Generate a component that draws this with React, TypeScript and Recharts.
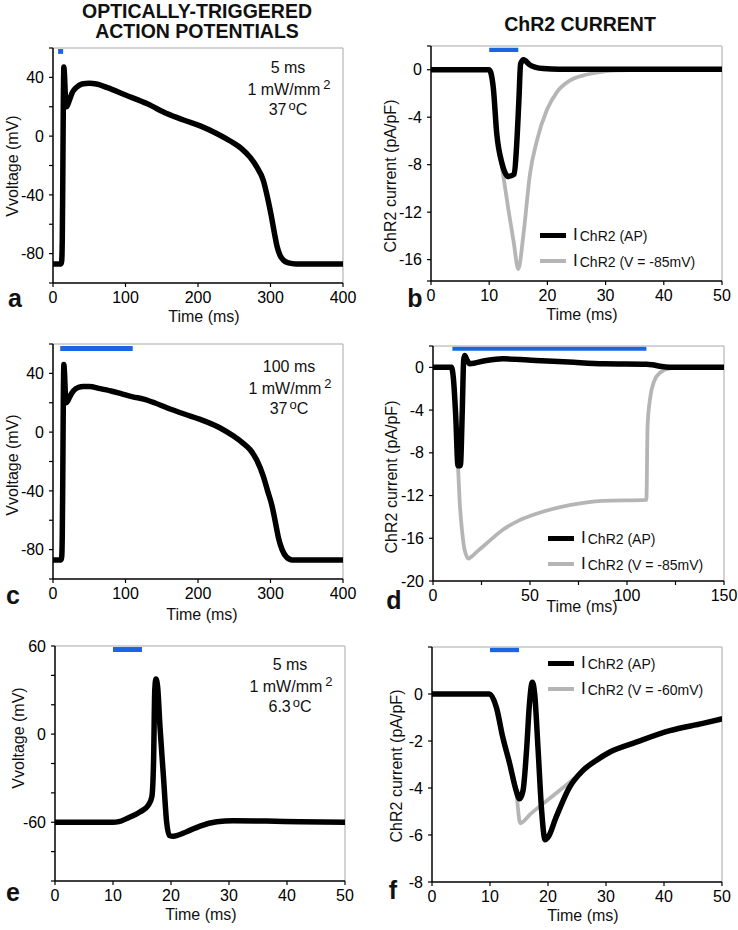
import React from 'react';
import { LineChart, Line, XAxis, YAxis, ReferenceLine, ReferenceArea, Legend } from 'recharts';

const FONT = '"Liberation Sans", Arial, Helvetica, sans-serif';
const BLUE = '#1a66e0';
const GRAY = '#b5b5b5';
const FRAME = '#c4c4c4';

// ---------- Panel a: AP, 5 ms, 1 mW/mm2, 37 C ----------
const apA_t = [0, 11, 12, 12.8, 13.5, 14.2, 15, 15.8, 17, 18.5, 20, 23, 27, 32, 40, 50, 60, 75, 100, 130, 157, 180, 203, 225, 245, 260, 272, 281, 290, 296, 301, 305, 309, 313, 318, 325, 335, 400];
const apA_v = [-87, -87, -85, -70, -30, 20, 47, 42, 28, 20, 21, 25, 30, 33, 35.5, 36, 35.5, 33, 28, 22, 15.4, 11, 7, 2, -3.5, -8.5, -14.5, -21, -30, -42, -54, -65, -75, -81, -84.5, -86.3, -87, -87];

// ---------- Panel b: ChR2 current, 5 ms ----------
const ibAP_t = [0, 10, 10.7, 11.3, 12.2, 13.3, 14.3, 14.7, 15.1, 15.4, 15.9, 17, 18, 19.3, 22, 50];
const ibAP_v = [0, 0, -1.5, -5.4, -7.9, -9.0, -8.8, -6.5, -2.6, 0.5, 0.84, 0.4, 0.2, 0.1, 0.05, 0.05];
const ibV_t = [0, 10, 10.7, 11.3, 12.2, 13.3, 14.2, 15, 15.9, 17, 18.2, 19.9, 21.6, 23.9, 26.8, 29.6, 32.5, 36, 50];
const ibV_v = [0, 0, -1.5, -5.2, -8.2, -11.8, -14.5, -16.8, -13.8, -8.8, -5.96, -3.4, -1.9, -0.9, -0.4, -0.15, -0.05, 0, 0];

// ---------- Panel c: AP, 100 ms ----------
const apC_t = [0, 11, 12, 12.8, 13.5, 14.2, 15, 15.8, 17, 18.5, 20, 23, 28, 35, 42, 50, 65, 80, 95, 110, 125, 140, 157, 180, 203, 230, 249, 262, 272, 281, 290, 296, 302, 307, 311, 316, 322, 330, 340, 400];
const apC_v = [-87, -87, -85, -70, -30, 20, 46, 41, 27, 20, 21, 24, 28, 30.5, 31, 31, 29.6, 28, 26, 24, 22.5, 20, 16.6, 12.5, 8.7, 3, -2.7, -7.5, -12, -19, -30, -40, -50, -62, -72, -80, -85, -87, -87, -87];

// ---------- Panel d: ChR2 current, 100 ms ----------
const idAP_t = [0, 9.5, 10.5, 11.7, 12.9, 14.1, 15.1, 15.8, 16.3, 17.5, 18.9, 27.5, 36, 53, 70, 88, 110, 113, 117, 122, 150];
const idAP_v = [0, 0, -1, -4.5, -9.2, -9.2, -4, 0.65, 1.1, 0.7, 0.34, 0.65, 0.8, 0.65, 0.5, 0.34, 0.3, 0.25, 0.1, 0, 0];
const idV_t = [0, 9.5, 10.5, 11.7, 12.9, 13.7, 15.1, 16.3, 18.4, 20, 23, 27.5, 36, 44.7, 53.3, 70.4, 87.6, 110, 110.6, 112, 114, 117, 122, 130, 150];
const idV_v = [0, 0, -1, -4.5, -9.2, -12.4, -15.5, -17.1, -17.9, -17.7, -17.2, -16.5, -15.2, -14.3, -13.7, -12.9, -12.5, -12.4, -5.5, -2.8, -1.3, -0.5, -0.1, 0, 0];

// ---------- Panel e: AP, 5 ms, 6.3 C ----------
const apE_t = [0, 10, 11, 12.4, 14.7, 16.1, 16.7, 17.0, 17.2, 17.4, 17.7, 18.1, 18.7, 19.25, 19.7, 20.4, 22.7, 25, 27.9, 30.7, 36.5, 42.2, 50];
const apE_v = [-60, -60, -59.6, -57.4, -52.9, -48.3, -42.6, -17.7, 30, 37.5, 32, 5, -29, -60, -69, -69.5, -66.5, -62.6, -59.7, -59, -59.2, -59.7, -60];

// ---------- Panel f: ChR2 current, 6.3 C ----------
const ifAP_t = [0, 9.9, 11.1, 12.2, 13.4, 14.5, 15.1, 15.7, 16.3, 16.8, 17.3, 17.7, 18.3, 18.9, 19.5, 20, 21.4, 23.7, 26, 28.3, 30.6, 35.2, 41, 46.7, 50];
const ifAP_v = [0, 0, -0.57, -1.84, -2.97, -4.1, -4.46, -4.1, -2.4, -0.42, 0.5, 0, -2.4, -4.96, -6.2, -6.1, -5.24, -3.97, -3.26, -2.83, -2.48, -2.05, -1.56, -1.25, -1.06];
const ifV_t = [0, 9.9, 11.1, 12.2, 13.4, 14.5, 15.2, 17, 20, 23, 26, 28.3, 30.6, 35.2, 41, 46.7, 50];
const ifV_v = [0, 0, -0.57, -1.84, -2.97, -4.1, -5.5, -5.1, -4.5, -3.9, -3.3, -2.83, -2.48, -2.05, -1.56, -1.25, -1.06];

// ---------- Axis ticks ----------
const apXTicks = [0, 100, 200, 300, 400];
const ms50Ticks = [0, 10, 20, 30, 40, 50];
const dXTicks = [0, 25, 50, 75, 100, 125, 150];
const dXLabels = [0, 50, 100, 150];
const apYTicks = [-100, -80, -60, -40, -20, 0, 20, 40, 60];
const apYLabels = [-80, -40, 0, 40];
const eYLabels = [-60, 0, 60];
const bYTicks = [-17.8, -16, -12, -8, -4, 0, 2];
const bYLabels = [-16, -12, -8, -4, 0];
const dYTicks = [-20, -16, -12, -8, -4, 0, 2];
const dYLabels = [-20, -16, -12, -8, -4, 0];
const fYTicks = [-8, -6, -4, -2, 0, 2];
const fYLabels = [-8, -6, -4, -2, 0];

const toPts = (t: number[], v: number[]) => t.map((x, i) => ({ t: x, v: v[i] }));

type Series = { key: string; t: number[]; v: number[]; color: string; width: number };
type LegendItem = { label: string; color: string; thick: number };

type PanelProps = {
  box: [number, number, number, number];
  xDomain: [number, number];
  xTicks: number[];
  xLabels?: number[];
  yDomain: [number, number];
  yTicks: number[];
  yLabels: number[];
  series: Series[];
  stim: [number, number, number, number];
  legend?: { items: LegendItem[]; x: number; y: number };
};

const LegendBox = ({ items }: { items: LegendItem[] }) => (
  <div style={{ fontFamily: FONT, color: '#111' }}>
    {items.map((it) => (
      <div key={it.label} style={{ display: 'flex', alignItems: 'center', height: 26, whiteSpace: 'nowrap' }}>
        <div style={{ width: 26, height: it.thick, background: it.color }} />
        <span style={{ fontSize: 17, marginLeft: 7, lineHeight: '18px' }}>I</span>
        <span style={{ fontSize: 14, marginLeft: 2, lineHeight: '18px', position: 'relative', top: 1 }}>{it.label}</span>
      </div>
    ))}
  </div>
);

function Panel({ box, xDomain, xTicks, xLabels, yDomain, yTicks, yLabels, series, stim, legend }: PanelProps) {
  const [L, T, R, B] = box;
  const padL = 60, padT = 10, padR = 15, padB = 50;
  const w = R - L + padL + padR;
  const h = B - T + padT + padB;
  const ox = L - padL, oy = T - padT;
  const tickStyle = { fill: '#000', fontSize: 16, fontFamily: FONT };
  return (
    <div style={{ position: 'absolute', left: ox, top: oy }}>
      <LineChart width={w} height={h} margin={{ top: padT, right: padR, bottom: 0, left: 0 }}>
        <XAxis
          type="number"
          dataKey="t"
          domain={xDomain}
          ticks={xTicks}
          interval={0}
          allowDataOverflow
          height={padB}
          tickSize={4}
          tickMargin={5}
          axisLine={{ stroke: '#000', strokeWidth: 1.5 }}
          tickLine={{ stroke: '#000', strokeWidth: 1.2 }}
          tick={tickStyle}
          tickFormatter={(v: number) => (!xLabels || xLabels.includes(v) ? String(v) : '')}
        />
        <YAxis
          type="number"
          domain={yDomain}
          ticks={yTicks}
          interval={0}
          allowDataOverflow
          width={padL}
          tickSize={4}
          tickMargin={5}
          axisLine={{ stroke: '#000', strokeWidth: 1.5 }}
          tickLine={{ stroke: '#000', strokeWidth: 1.2 }}
          tick={tickStyle}
          tickFormatter={(v: number) => (yLabels.includes(v) ? String(v) : '')}
        />
        <ReferenceLine y={yDomain[1]} stroke={FRAME} strokeWidth={1.5} />
        <ReferenceLine x={xDomain[1]} stroke={FRAME} strokeWidth={1.5} />
        <ReferenceArea x1={stim[0]} x2={stim[1]} y1={stim[2]} y2={stim[3]} fill={BLUE} fillOpacity={1} stroke="none" />
        {series.map((s) => (
          <Line
            key={s.key}
            data={toPts(s.t, s.v)}
            dataKey="v"
            type="monotone"
            stroke={s.color}
            strokeWidth={s.width}
            strokeLinecap="round"
            strokeLinejoin="round"
            dot={false}
            activeDot={false}
            isAnimationActive={false}
          />
        ))}
        {legend && (
          <Legend
            layout="horizontal"
            verticalAlign="middle"
            align="center"
            content={() => <LegendBox items={legend.items} />}
            wrapperStyle={{ position: 'absolute', left: legend.x - ox, top: legend.y - oy, width: 200, height: 52 }}
          />
        )}
      </LineChart>
    </div>
  );
}

const Txt = ({ x, y, size = 16, bold = false, rotate = false, children }: any) => (
  <div
    style={{
      position: 'absolute',
      left: x,
      top: y,
      transform: `translate(-50%, -50%)${rotate ? ' rotate(-90deg)' : ''}`,
      whiteSpace: 'nowrap',
      fontSize: size,
      fontWeight: bold ? 'bold' : 'normal',
      fontFamily: FONT,
      color: '#111',
      lineHeight: 1,
    }}
  >
    {children}
  </div>
);

const Cond = ({ x, y, dur, temp }: { x: number; y: number; dur: string; temp: string }) => (
  <>
    <Txt x={x} y={y}>{dur}</Txt>
    <Txt x={x + 1} y={y + 20}>1 mW/mm<sup style={{ fontSize: 13, marginLeft: 3, verticalAlign: 6 }}>2</sup></Txt>
    <Txt x={x} y={y + 40}>{temp}<sup style={{ fontSize: 13, marginLeft: 2, verticalAlign: 5 }}>o</sup>C</Txt>
  </>
);

const legend85: LegendItem[] = [
  { label: 'ChR2 (AP)', color: '#000', thick: 5 },
  { label: 'ChR2 (V = -85mV)', color: GRAY, thick: 4 },
];
const legend60: LegendItem[] = [
  { label: 'ChR2 (AP)', color: '#000', thick: 5 },
  { label: 'ChR2 (V = -60mV)', color: GRAY, thick: 4 },
];

export default function App() {
  return (
    <div style={{ position: 'absolute', left: 0, top: 0, width: 738, height: 930, background: '#fff', fontFamily: FONT }}>
      <Txt x={197} y={12} size={19.5} bold>OPTICALLY-TRIGGERED</Txt>
      <Txt x={197} y={32} size={19.5} bold>ACTION POTENTIALS</Txt>
      <Txt x={580} y={25} size={19.5} bold>ChR2 CURRENT</Txt>

      <Panel
        box={[53, 48, 343, 283]}
        xDomain={[0, 400]} xTicks={apXTicks}
        yDomain={[-100, 60]} yTicks={apYTicks} yLabels={apYLabels}
        stim={[7, 14, 56, 59.3]}
        series={[{ key: 'a', t: apA_t, v: apA_v, color: '#000', width: 5.5 }]}
      />
      <Panel
        box={[431, 46, 722, 281]}
        xDomain={[0, 50]} xTicks={ms50Ticks}
        yDomain={[-17.8, 2]} yTicks={bYTicks} yLabels={bYLabels}
        stim={[10, 15, 1.5, 1.85]}
        series={[
          { key: 'bV', t: ibV_t, v: ibV_v, color: GRAY, width: 3.8 },
          { key: 'bAP', t: ibAP_t, v: ibAP_v, color: '#000', width: 5.5 },
        ]}
        legend={{ items: legend85, x: 540, y: 222 }}
      />
      <Panel
        box={[53, 344, 343, 579]}
        xDomain={[0, 400]} xTicks={apXTicks}
        yDomain={[-100, 60]} yTicks={apYTicks} yLabels={apYLabels}
        stim={[10, 110, 55.2, 58.6]}
        series={[{ key: 'c', t: apC_t, v: apC_v, color: '#000', width: 5.5 }]}
      />
      <Panel
        box={[433, 346, 724, 581]}
        xDomain={[0, 150]} xTicks={dXTicks} xLabels={dXLabels}
        yDomain={[-20, 2]} yTicks={dYTicks} yLabels={dYLabels}
        stim={[10, 110, 1.55, 1.95]}
        series={[
          { key: 'dV', t: idV_t, v: idV_v, color: GRAY, width: 3.8 },
          { key: 'dAP', t: idAP_t, v: idAP_v, color: '#000', width: 5.5 },
        ]}
        legend={{ items: legend85, x: 548, y: 525 }}
      />
      <Panel
        box={[55, 646, 345, 881]}
        xDomain={[0, 50]} xTicks={ms50Ticks}
        yDomain={[-100, 60]} yTicks={apYTicks} yLabels={eYLabels}
        stim={[10, 15, 55.9, 59.3]}
        series={[{ key: 'e', t: apE_t, v: apE_v, color: '#000', width: 5.5 }]}
      />
      <Panel
        box={[432, 647, 722, 882]}
        xDomain={[0, 50]} xTicks={ms50Ticks}
        yDomain={[-8, 2]} yTicks={fYTicks} yLabels={fYLabels}
        stim={[10, 15, 1.78, 1.98]}
        series={[
          { key: 'fV', t: ifV_t, v: ifV_v, color: GRAY, width: 3.8 },
          { key: 'fAP', t: ifAP_t, v: ifAP_v, color: '#000', width: 5.5 },
        ]}
        legend={{ items: legend60, x: 548, y: 650 }}
      />

      {/* axis titles */}
      <Txt x={13} y={166} rotate>Vvoltage (mV)</Txt>
      <Txt x={391} y={176} rotate>ChR2 current (pA/pF)</Txt>
      <Txt x={13} y={465} rotate>Vvoltage (mV)</Txt>
      <Txt x={392} y={477} rotate>ChR2 current (pA/pF)</Txt>
      <Txt x={19} y={738} rotate>Vvoltage (mV)</Txt>
      <Txt x={397} y={766} rotate>ChR2 current (pA/pF)</Txt>

      <Txt x={204} y={317}>Time (ms)</Txt>
      <Txt x={582} y={315}>Time (ms)</Txt>
      <Txt x={202} y={615}>Time (ms)</Txt>
      <Txt x={582} y={607}>Time (ms)</Txt>
      <Txt x={201} y={915}>Time (ms)</Txt>
      <Txt x={583} y={916}>Time (ms)</Txt>

      {/* condition annotations */}
      <Cond x={288} y={68} dur="5 ms" temp="37" />
      <Cond x={289} y={367} dur="100 ms" temp="37" />
      <Cond x={290} y={665} dur="5 ms" temp="6.3" />

      {/* panel letters */}
      <Txt x={15} y={298} size={25} bold>a</Txt>
      <Txt x={415} y={298} size={25} bold>b</Txt>
      <Txt x={13} y={595} size={25} bold>c</Txt>
      <Txt x={394} y={600} size={25} bold>d</Txt>
      <Txt x={13} y={892} size={25} bold>e</Txt>
      <Txt x={393} y={890} size={25} bold>f</Txt>
    </div>
  );
}
